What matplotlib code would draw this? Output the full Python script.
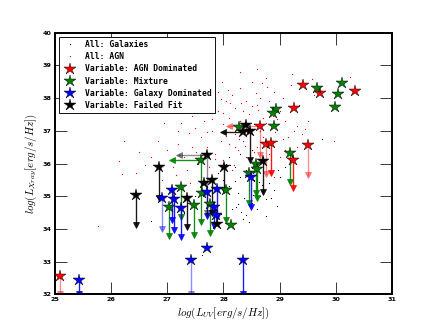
import matplotlib
matplotlib.use('Agg')
import matplotlib.pyplot as plt
from matplotlib.lines import Line2D
import numpy as np

plt.rcParams['mathtext.fontset'] = 'cm'

nan = np.nan

# ---- background populations (log L_UV, log L_Xray) ----
agn_x = [26.14, 26.19, 26.23, 26.44, 26.71, 26.83, 27.38, 25.77, 27.00, 27.10, 27.20, 27.30,
         27.35, 27.45, 27.50, 27.55, 27.60, 27.65, 27.70, 27.75, 27.80, 27.85, 27.90, 27.95,
         28.00, 28.00, 28.05, 28.10, 28.10, 28.15, 28.20, 28.20, 28.25, 28.30, 28.30, 28.35,
         28.40, 28.40, 28.45, 28.50, 28.50, 28.55, 28.60, 28.60, 28.65, 28.70, 28.70, 28.75,
         28.80, 28.80, 28.85, 28.90, 28.95, 29.00, 29.00, 29.05, 29.10, 29.15, 29.20, 29.25,
         29.30, 29.35, 29.40, 29.50, 29.60, 29.22, 29.58, 30.25, 29.96, 28.30, 28.60, 27.90,
         28.15, 28.45, 28.60, 28.90, 27.40, 26.90, 27.20, 27.60, 27.98, 27.95, 28.25, 28.55,
         28.05, 28.35, 28.65, 28.85, 29.10, 28.20, 28.40, 28.75, 27.85, 28.00, 28.50, 28.70,
         27.70, 27.45, 27.15, 28.95, 29.30, 28.12, 28.38, 28.62, 28.28, 28.48, 28.78, 27.80,
         28.58, 28.18, 28.92, 29.45, 26.60, 27.05, 27.25, 27.52, 27.78, 28.08, 28.32, 28.88,
         26.50, 26.95, 27.62, 28.42, 29.05, 28.68]
agn_y = [36.07, 35.69, 36.69, 35.70, 36.19, 36.69, 36.92, 34.09, 36.40, 35.90, 36.60, 36.20,
         35.80, 36.50, 37.10, 36.00, 36.80, 37.30, 36.50, 35.90, 37.00, 36.30, 37.60, 36.70,
         37.20, 36.10, 37.90, 36.60, 37.40, 38.10, 36.90, 37.70, 36.40, 38.30, 37.30, 36.70,
         37.90, 36.20, 37.50, 38.50, 36.90, 37.20, 37.80, 36.50, 38.00, 37.40, 36.80, 38.60,
         37.90, 36.30, 37.10, 38.20, 36.70, 37.60, 36.20, 38.00, 37.30, 36.80, 38.40, 37.00,
         36.50, 37.80, 36.90, 37.30, 38.10, 38.73, 38.57, 38.65, 36.68, 38.80, 38.90, 38.20,
         35.80, 35.60, 35.30, 35.60, 35.40, 35.50, 37.00, 37.60, 38.49, 37.98, 37.05, 36.35,
         36.85, 37.60, 37.00, 36.60, 36.40, 36.50, 37.10, 37.25, 36.15, 37.55, 37.75, 36.05,
         36.95, 37.45, 35.65, 37.35, 37.15, 37.85, 36.55, 37.65, 36.75, 36.25, 38.35, 37.35,
         38.15, 35.95, 36.95, 37.05, 35.95, 35.25, 37.25, 36.35, 38.05, 38.25, 37.85, 37.45,
         36.35, 37.25, 36.25, 36.95, 36.75, 38.45]

gal_x = [26.71, 27.62, 28.22, 28.63, 28.36, 28.40, 28.31, 28.97, 27.90, 28.00, 28.05, 28.10,
         28.15, 28.20, 28.25, 28.30, 28.35, 28.40, 28.45, 28.50, 28.55, 28.60, 28.65, 28.70,
         28.75, 28.80, 28.85, 28.90, 28.95, 29.00, 28.10, 28.30, 28.50, 28.70, 27.80, 27.70,
         27.50, 27.30, 27.95, 28.45, 28.60, 29.10, 28.20, 28.05, 27.60, 28.75, 28.85, 29.75,
         28.52, 28.68, 28.25, 28.42, 28.82, 28.12]
gal_y = [34.24, 33.20, 34.67, 35.43, 34.94, 34.42, 34.52, 35.79, 35.70, 35.50, 34.90, 35.30,
         34.60, 35.90, 35.10, 35.60, 34.30, 35.80, 35.20, 34.80, 35.50, 34.60, 35.00, 35.70,
         34.90, 35.40, 36.10, 35.20, 34.70, 35.60, 36.20, 36.30, 36.40, 36.20, 35.20, 34.80,
         35.00, 34.50, 34.45, 34.20, 35.95, 35.90, 35.45, 36.00, 35.60, 34.40, 34.95, 36.74,
         35.05, 35.35, 34.75, 35.65, 35.75, 35.95]

# ---- variable sources: star position, upper-limit ends (nan = none) ----
agn_dom_x    = [25.10, 29.41, 29.72, 30.34, 29.26, 29.51, 28.65, 28.75, 28.84, 29.23]
agn_dom_y    = [32.55, 38.41, 38.17, 38.21, 37.70, 36.56, 37.15, 36.61, 36.64, 36.10]
agn_dom_ylim = [32.00, nan,   nan,   nan,   nan,   35.64, 36.25, 35.69, 35.72, 35.24]
agn_dom_xlim = [nan,   nan,   nan,   nan,   nan,   nan,   28.10, nan,   nan,   nan]

mix_x    = [29.66, 30.11, 30.03, 29.98, 28.94, 28.88, 28.90, 29.19, 28.46, 28.58, 28.59,
            28.28, 27.60, 27.25, 27.03, 27.48, 27.62, 27.76, 28.04, 28.13]
mix_y    = [38.32, 38.46, 38.14, 37.73, 37.68, 37.53, 37.15, 36.33, 35.71, 36.00, 35.84,
            37.12, 36.12, 35.28, 34.67, 34.72, 35.11, 34.77, 35.20, 34.11]
mix_ylim = [nan,   nan,   nan,   nan,   nan,   nan,   nan,   35.43, 34.80, 35.10, 34.94,
            nan,   34.21, 34.36, 33.77, 33.80, nan,   33.86, 34.28, nan]
mix_xlim = [nan,   nan,   nan,   nan,   nan,   nan,   nan,   nan,   nan,   nan,   nan,
            nan,   27.09, nan,   nan,   nan,   nan,   nan,   nan,   nan]

galdom_x    = [25.43, 27.43, 27.70, 28.35, 26.90, 27.09, 27.12, 27.25, 27.70, 27.84, 27.88,
               27.86, 28.49]
galdom_y    = [32.45, 33.04, 33.42, 33.04, 34.96, 35.20, 34.90, 34.64, 35.13, 34.67, 35.23,
               34.42, 35.59]
galdom_ylim = [32.00, 32.00, nan,   32.00, 33.99, 34.26, 33.98, 33.75, 34.40, 34.10, 34.36,
               nan,   34.67]
galdom_xlim = [nan] * 13

fail_x    = [26.44, 26.86, 27.70, 28.01, 27.36, 27.66, 27.79, 27.88, 28.40, 28.34, 28.47, 28.71]
fail_y    = [35.03, 35.89, 36.25, 35.89, 34.93, 35.39, 35.49, 34.16, 37.17, 36.95, 36.99, 36.08]
fail_ylim = [34.11, 34.96, 34.50, 35.18, 34.06, nan,   34.50, nan,   nan,   nan,   36.10, 35.13]
fail_xlim = [nan,   nan,   27.21, nan,   nan,   nan,   nan,   nan,   nan,   27.99, nan,   nan]

xticks = [25, 26, 27, 28, 29, 30, 31]
yticks = [32, 33, 34, 35, 36, 37, 38, 39, 40]

# ---------------------------------------------------------------
fig = plt.figure(figsize=(8, 6), dpi=54.5)
ax = fig.add_subplot(111)
fig.subplots_adjust(left=0.125, right=0.9, bottom=0.1, top=0.9)

ax.plot(gal_x, gal_y, linestyle='none', marker='s', ms=1.4, color='black', mew=0, zorder=1)
ax.plot(agn_x, agn_y, linestyle='none', marker='s', ms=1.5, color='red', mew=0, zorder=1)

# arrows drawn lighter in the reference
faint = {('red', 0), ('red', 5), ('red', 6), ('red', 7), ('blue', 1), ('blue', 4),
         ('black', 2)}

def draw_group(xs, ys, ylims, xlims, color):
    for i, (x, y, yl, xl) in enumerate(zip(xs, ys, ylims, xlims)):
        a = 0.45 if (color, i) in faint else 0.9
        if not np.isnan(yl):
            ax.plot([x, x], [y, yl], color=color, lw=1.8, alpha=a, zorder=2)
            ax.plot([x], [yl], marker='v', ms=8, color=color, mec=color, alpha=a,
                    linestyle='none', zorder=2)
        if not np.isnan(xl):
            ax.plot([x, xl], [y, y], color=color, lw=1.8, alpha=a, zorder=2)
            ax.plot([xl], [y], marker='<', ms=8, color=color, mec=color, alpha=a,
                    linestyle='none', zorder=2)

groups = [
    (agn_dom_x, agn_dom_y, agn_dom_ylim, agn_dom_xlim, 'red'),
    (mix_x, mix_y, mix_ylim, mix_xlim, 'green'),
    (galdom_x, galdom_y, galdom_ylim, galdom_xlim, 'blue'),
    (fail_x, fail_y, fail_ylim, fail_xlim, 'black'),
]
for g in groups:
    draw_group(*g)
for xs, ys, _, _, c in groups:
    ax.plot(xs, ys, linestyle='none', marker='*', ms=16, color=c, mec='black',
            mew=0.6, zorder=3)

ax.set_xlim(25, 31)
ax.set_ylim(32, 40)
ax.set_xticks(xticks)
ax.set_yticks(yticks)
ax.set_xticklabels([str(t) for t in xticks], fontsize=8.5, fontweight='bold')
ax.set_yticklabels([str(t) for t in yticks], fontsize=8.5, fontweight='bold')
ax.tick_params(direction='in', length=16, width=1, top=True, right=True, pad=4)
for s in ax.spines.values():
    s.set_linewidth(2.6)

ax.set_xlabel(r'$log(L_{UV}[erg/s/Hz])$', fontsize=14.5)
ax.set_ylabel(r'$log(L_{Xray}[erg/s/Hz])$', fontsize=14.5)

handles = [
    Line2D([], [], linestyle='none', marker='s', ms=1.5, color='black', mew=0),
    Line2D([], [], linestyle='none', marker='s', ms=1.5, color='red', mew=0),
    Line2D([], [], linestyle='none', marker='*', ms=16, color='red', mec='black', mew=0.6),
    Line2D([], [], linestyle='none', marker='*', ms=16, color='green', mec='black', mew=0.6),
    Line2D([], [], linestyle='none', marker='*', ms=16, color='blue', mec='black', mew=0.6),
    Line2D([], [], linestyle='none', marker='*', ms=16, color='black', mec='black', mew=0.6),
]
labels = ['All: Galaxies', 'All: AGN', 'Variable: AGN Dominated', 'Variable: Mixture',
          'Variable: Galaxy Dominated', 'Variable: Failed Fit']
leg = ax.legend(handles, labels, loc='upper left', numpoints=1, fancybox=False,
                framealpha=1, edgecolor='black', borderaxespad=0.5, labelspacing=0.4,
                handletextpad=0.85, borderpad=0.4, handlelength=2.0,
                prop={'family': 'DejaVu Sans Mono', 'weight': 'bold', 'size': 10.6})
leg.get_frame().set_linewidth(1.2)
leg.set_zorder(5)

fig.savefig('out.png', dpi=54.5)
